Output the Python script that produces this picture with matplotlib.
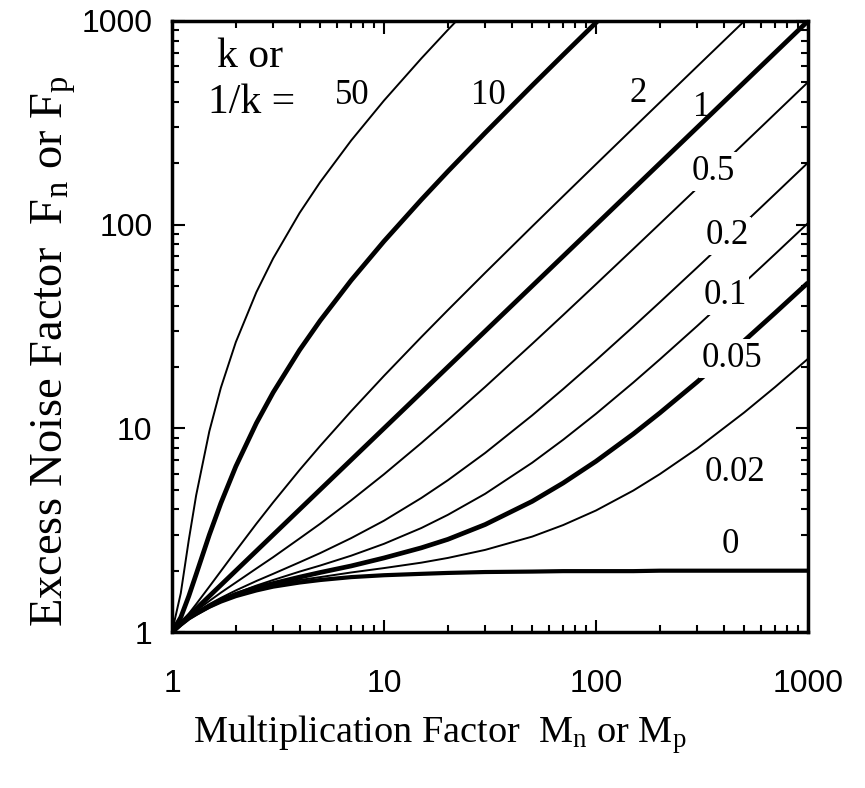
import matplotlib
matplotlib.use('Agg')
from matplotlib import pyplot as plt

plt.rcParams['font.family'] = 'Liberation Serif'
plt.rcParams['mathtext.fontset'] = 'custom'
plt.rcParams['mathtext.rm'] = 'Liberation Serif'

# multiplication factor M (x)
m_vals = [1, 1.1, 1.2, 1.3, 1.5, 1.7, 2, 2.5, 3, 4, 5, 7, 10, 15, 20, 30, 50, 70, 100,
          150, 200, 300, 500, 700, 1000]

# excess noise factor F, one list per k (or 1/k)
f_50 = [1, 1.55, 2.83, 4.69, 9.67, 15.82, 26.5, 46.6, 68.3, 114.3, 161.8, 259, 406.9,
        655, 904, 1404]
f_10 = [1, 1.18, 1.5, 1.92, 3.0, 4.29, 6.5, 10.6, 15, 24.25, 33.8, 53.3, 82.9, 132.6,
        182.5, 282.3, 482.2, 682.1, 982.1, 1482]
f_2 = [1, 1.11, 1.23, 1.37, 1.67, 1.99, 2.5, 3.4, 4.33, 6.25, 8.2, 12.14, 18.1, 28.07,
       38.05, 58.03, 98.02, 138.0, 198.0, 298.0, 398.0, 598.0, 998.0, 1398]
f_1 = [1, 1.1, 1.2, 1.3, 1.5, 1.7, 2, 2.5, 3, 4, 5, 7, 10, 15, 20, 30, 50, 70, 100,
       150, 200, 300, 500, 700, 1000]
f_05 = [1, 1.10, 1.18, 1.27, 1.42, 1.56, 1.75, 2.05, 2.33, 2.88, 3.4, 4.43, 5.95, 8.47,
        10.98, 15.98, 25.99, 35.99, 51.0, 76.0, 101.0, 151.0, 251.0, 351.0, 501.0]
f_02 = [1, 1.09, 1.17, 1.25, 1.37, 1.47, 1.6, 1.78, 1.93, 2.2, 2.44, 2.89, 3.52, 4.55,
        5.56, 7.57, 11.58, 15.59, 21.59, 31.59, 41.6, 61.6, 101.6, 141.6, 201.6]
f_01 = [1, 1.09, 1.17, 1.24, 1.35, 1.44, 1.55, 1.69, 1.8, 1.98, 2.12, 2.37, 2.71, 3.24,
        3.76, 4.77, 6.78, 8.79, 11.79, 16.79, 21.8, 31.8, 51.8, 71.8, 101.8]
f_005 = [1, 1.09, 1.17, 1.23, 1.34, 1.43, 1.53, 1.65, 1.73, 1.86, 1.96, 2.11, 2.31, 2.59,
         2.85, 3.37, 4.38, 5.39, 6.89, 9.39, 11.9, 16.9, 26.9, 36.9, 51.9]
f_002 = [1, 1.09, 1.17, 1.23, 1.34, 1.42, 1.51, 1.62, 1.69, 1.80, 1.86, 1.96, 2.06, 2.19,
         2.31, 2.53, 2.94, 3.35, 3.95, 4.95, 5.96, 7.96, 11.96, 15.96, 21.96]
f_0 = [1, 1.09, 1.17, 1.23, 1.33, 1.41, 1.5, 1.6, 1.67, 1.75, 1.8, 1.86, 1.9, 1.93,
       1.95, 1.97, 1.98, 1.99, 1.99, 1.99, 2.0, 2.0, 2.0, 2.0, 2.0]

curve_labels = ['50', '10', '2', '1', '0.5', '0.2', '0.1', '0.05', '0.02', '0']
tick_vals = [1, 10, 100, 1000]
tick_labels = ['1', '10', '100', '1000']

curves = [f_50, f_10, f_2, f_1, f_05, f_02, f_01, f_005, f_002, f_0]
widths = [1.4, 3.4, 1.4, 3.4, 1.4, 1.4, 1.4, 3.4, 1.4, 3.0]
# where each curve label sits (M, F); True = label breaks the line
label_pos = [(7.1, 430, False), (31, 430, False), (158, 440, False), (316, 378, False),
             (356, 182, True), (415, 88, True), (406, 45, True), (438, 22, True),
             (453, 6.1, False), (429, 2.7, False)]

fig = plt.figure(figsize=(8.65, 7.88), dpi=100)
ax = fig.add_axes([172/865, 156/788, 636/865, 611/788])

for f, lw in zip(curves, widths):
    ax.plot(m_vals[:len(f)], f, color='black', lw=lw, solid_capstyle='butt', zorder=2)

for lab, (mx, fy, gap) in zip(curve_labels, label_pos):
    t = ax.text(mx, fy, lab, fontsize=25, ha='center', va='center', zorder=3)
    if gap:
        t.set_bbox(dict(facecolor='white', edgecolor='none', pad=2))

ax.text(0.071, 0.941, 'k or', transform=ax.transAxes, fontsize=30, ha='left', va='center')
ax.text(0.057, 0.866, '1/k =', transform=ax.transAxes, fontsize=30, ha='left', va='center')

ax.set_xscale('log')
ax.set_yscale('log')
ax.set_xlim(1, 1000)
ax.set_ylim(1, 1000)
ax.set_xticks(tick_vals)
ax.set_xticklabels(tick_labels, fontfamily='Liberation Sans', fontsize=23)
ax.set_yticks(tick_vals)
ax.set_yticklabels(tick_labels, fontfamily='Liberation Sans', fontsize=23)
ax.tick_params(which='both', direction='in', top=True, right=True, width=1.5)
ax.tick_params(which='major', length=9)
ax.tick_params(which='minor', length=5)
ax.tick_params(axis='x', pad=27)
ax.tick_params(axis='y', pad=14)
for sp in ax.spines.values():
    sp.set_linewidth(2.5)

ax.set_xlabel(r'Multiplication Factor  $\mathrm{M_n}$ or $\mathrm{M_p}$', fontsize=27.5)
ax.xaxis.set_label_coords(0.421, -0.133)
ax.set_ylabel(r'Excess Noise Factor  $\mathrm{F_n}$ or $\mathrm{F_p}$', fontsize=33.5)
ax.yaxis.set_label_coords(-0.148, 0.46)

fig.savefig('out.png', dpi=100)
